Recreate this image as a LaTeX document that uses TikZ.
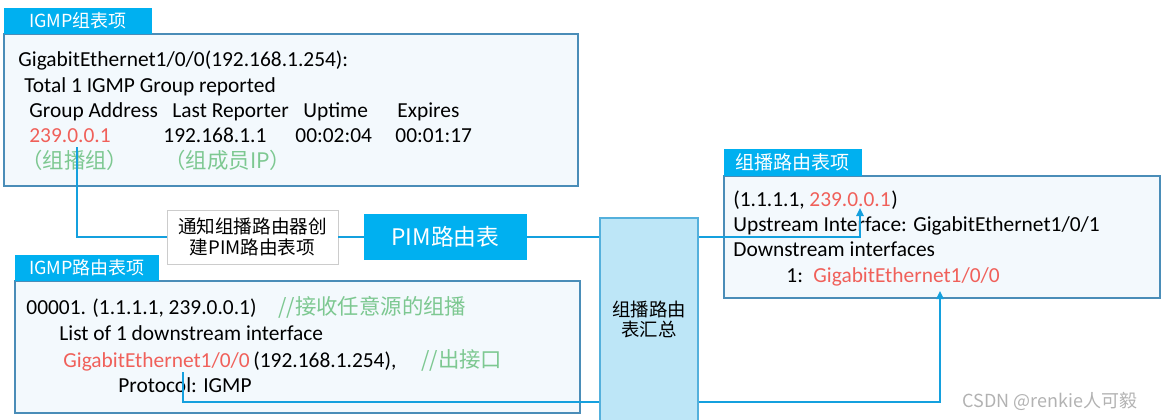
\documentclass[tikz,border=0pt]{standalone}
\usepackage{fontspec}
\setmainfont{Carlito}
\newfontfamily\cjk{Noto Sans CJK SC}
\usetikzlibrary{arrows.meta}

\definecolor{tabblue}{RGB}{0,176,240}
\definecolor{panelline}{RGB}{74,141,184}
\definecolor{panelfill}{RGB}{243,249,253}
\definecolor{linkblue}{RGB}{20,160,222}
\definecolor{addrred}{RGB}{240,96,90}
\definecolor{notegreen}{RGB}{125,200,145}
\definecolor{sumfill}{RGB}{189,230,247}
\definecolor{sumline}{RGB}{84,176,220}

\tikzset{
  tabhead/.style={fill=tabblue, text=white, inner sep=0pt, minimum height=13pt,
    font=\cjk\fontsize{9}{10}\selectfont},
  panel/.style={draw=panelline, fill=panelfill, line width=0.7pt},
  txt/.style={anchor=base west, inner sep=0pt, font=\fontsize{10.7}{12}\selectfont},
  cntxt/.style={txt, font=\cjk\fontsize{10.7}{12}\selectfont},
  notebox/.style={draw=black!20, fill=white, inner sep=0pt, align=center,
    minimum width=85.5pt, minimum height=27pt, font=\cjk\fontsize{9.3}{10.75}\selectfont},
  pimbox/.style={fill=tabblue, text=white, inner sep=0pt,
    minimum width=81.5pt, minimum height=23pt, font=\cjk\fontsize{11.4}{12}\selectfont},
  sumbox/.style={draw=sumline, fill=sumfill, line width=0.7pt, inner sep=0pt, align=center,
    minimum width=49pt, minimum height=101.5pt, font=\cjk\fontsize{9.2}{10.25}\selectfont},
  link/.style={draw=linkblue, line width=1pt},
  tip/.style={-{Triangle[length=4pt,width=3.6pt]}}
}

\begin{document}
\begin{tikzpicture}[x=0.5pt,y=-0.5pt]
\useasboundingbox (0,0) rectangle (1162,419);

% IGMP group entry
\draw[panel] (4,34) rectangle (578,186);
\node[tabhead, minimum width=74pt] (grptab) at (78,21) {IGMP组表项};
\node[txt] (grpif) at (18,66) {GigabitEthernet1/0/0(192.168.1.254):};
\node[txt] (grptotal) at (24,92) {Total 1 IGMP Group reported};
\node[txt] (hdaddr) at (29,117) {Group Address};
\node[txt] (hdrep) at (172,117) {Last Reporter};
\node[txt] (hdup) at (303,117) {Uptime};
\node[txt] (hdexp) at (397,117) {Expires};
\node[txt, text=addrred] (grpaddr) at (29,142) {239.0.0.1};
\node[txt] (grprep) at (163,142) {192.168.1.1};
\node[txt] (grpup) at (295,142) {00:02:04};
\node[txt] (grpexp) at (395,142) {00:01:17};
\node[cntxt, text=notegreen] (grpnote) at (21,168) {（组播组）};
\node[cntxt, text=notegreen] (repnote) at (164,168) {（组成员IP）};
\coordinate (g1) at (77,147);

% IGMP routing entry
\draw[panel] (15,281) rectangle (580,413);
\node[tabhead, minimum width=72pt] (rttab) at (87,268) {IGMP路由表项};
\node[txt] (rtentry) at (26,314) {00001. (1.1.1.1, 239.0.0.1)};
\node[cntxt, text=notegreen] (rtnote) at (278,314) {//接收任意源的组播};
\node[txt] (rtlist) at (59,340) {List of 1 downstream interface};
\node[txt, text=addrred] (rtif) at (63,367) {GigabitEthernet1/0/0};
\node[txt] (rtip) at (253,367) {(192.168.1.254),};
\node[cntxt, text=notegreen] (ifnote) at (421,367) {//出接口};
\node[txt] (rtproto) at (118,392) {Protocol: IGMP};
\coordinate (g2) at (183,372);

% middle boxes
\node[notebox] (notify) at (252.5,237) {通知组播路由器创\\建PIM路由表项};
\node[pimbox] (pim) at (445.5,237) {PIM路由表};
\node[sumbox] (sum) at (649,319.5) {组播路由\\表汇总};

% multicast routing entry
\draw[panel] (724,176) rectangle (1160,298);
\node[tabhead, minimum width=68.8pt, minimum height=13.5pt,
  font=\cjk\fontsize{9.5}{10}\selectfont] (mctab) at (792.8,162.5) {组播路由表项};
\node[txt] (mcsrc) at (733,206) {(1.1.1.1,};
\node[txt, text=addrred] (mcgrp) at (809,206) {239.0.0.1};
\node[txt] at (mcgrp.base east) {)};
\node[txt] (mcup) at (733,231) {Upstream Interface: GigabitEthernet1/0/1};
\node[txt] (mcdown) at (733,256) {Downstream interfaces};
\node[txt] (mcnum) at (786,282) {1:};
\node[txt, text=addrred] (mcif) at (813,282) {GigabitEthernet1/0/0};
\coordinate (t1) at (860,208);
\coordinate (t2) at (940,291);
\coordinate (d2) at (940,402);

% connectors
\draw[link] (g1) |- (notify.west);
\draw[link] (notify) -- (pim);
\draw[link] (pim.east) -- (pim.east -| sum.west);
\draw[link, tip] (pim.east -| sum.east) -| (t1);
\draw[link] (g2) |- (sum.west |- d2);
\draw[link, tip] (sum.east |- d2) -- (d2) -- (t2);

\node[anchor=base west, inner sep=0pt, text=black!30,
  font=\cjk\fontsize{9}{10}\selectfont] (wmark) at (962,407) {CSDN @renkie人可毅};
\end{tikzpicture}
\end{document}
